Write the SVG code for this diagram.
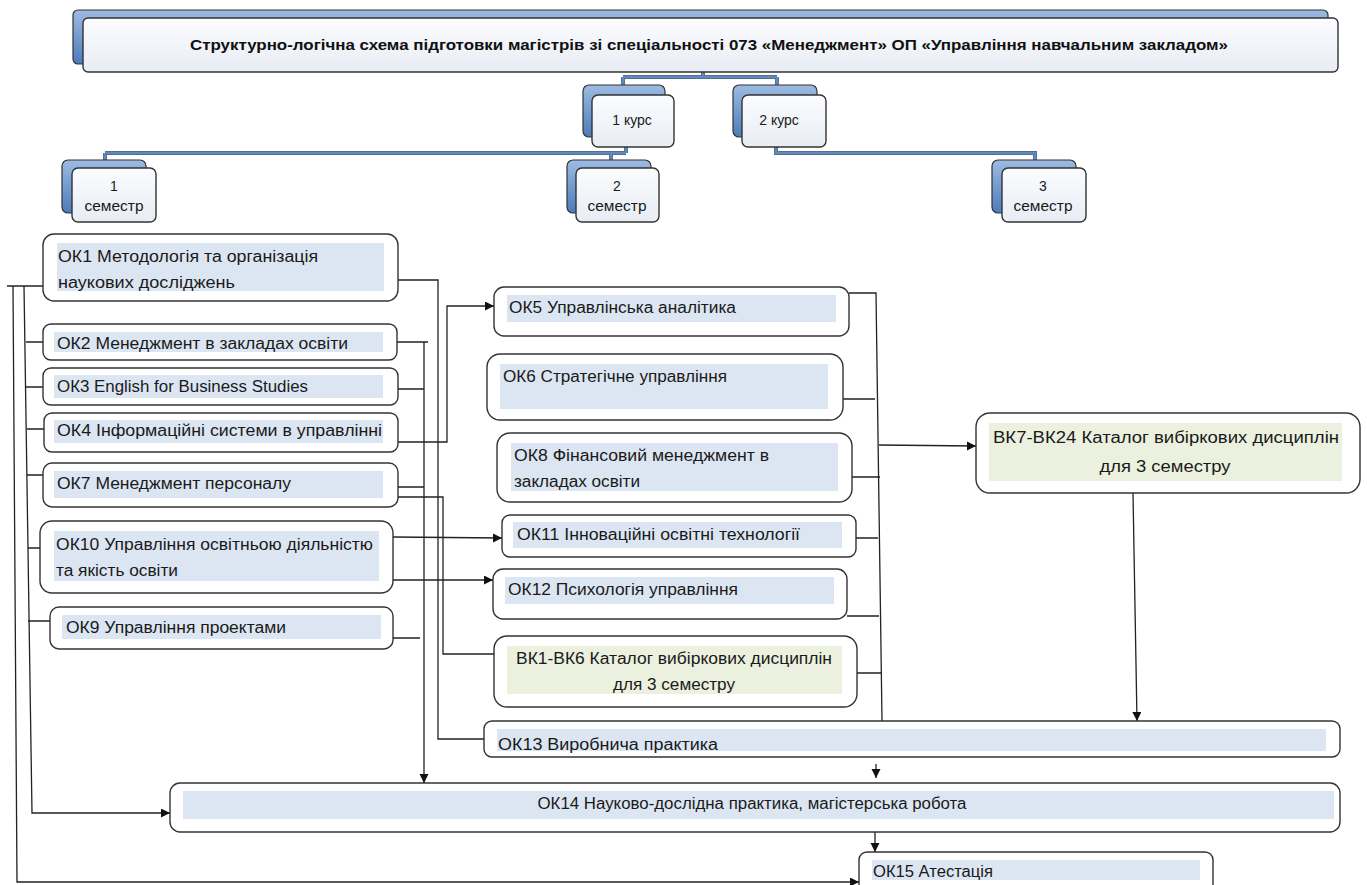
<svg xmlns="http://www.w3.org/2000/svg" width="1367" height="885" viewBox="0 0 1367 885">
<defs>
<linearGradient id="blue" x1="0" y1="0" x2="0" y2="1"><stop offset="0" stop-color="#9dbbe2"/><stop offset="1" stop-color="#4a7cbc"/></linearGradient>
<linearGradient id="pale" x1="0" y1="0" x2="0" y2="1"><stop offset="0" stop-color="#fbfcfe"/><stop offset="1" stop-color="#e8edf4"/></linearGradient>
<marker id="ar" markerUnits="userSpaceOnUse" markerWidth="10" markerHeight="10" refX="9" refY="4.5" orient="auto"><path d="M0,0 L9,4.5 L0,9 z" fill="#111"/></marker>
<style>
.box{fill:#fff;stroke:#333;stroke-width:1.4}
.hl{fill:#dce6f2}
.hg{fill:#ebf1de}
.t{font-family:"Liberation Sans",Arial,sans-serif;font-size:16px;fill:#1a1a1a}
.s{font-family:"Liberation Sans",Arial,sans-serif;font-size:14px;fill:#1a1a1a}
.h{font-family:"Liberation Sans",Arial,sans-serif;font-size:14.5px;font-weight:bold;fill:#111}
.c{fill:none;stroke:#222;stroke-width:1.3}
.back{fill:url(#blue);stroke:#333;stroke-width:1.2}
.front{fill:url(#pale);stroke:#333;stroke-width:1.4}
.blo{fill:none;stroke:#5b6e88;stroke-width:4}
.bli{fill:none;stroke:#5b8ac6;stroke-width:2.2}
</style>
</defs>
<rect width="1367" height="885" fill="#fff"/>

<g id="tree-connectors">
<path class="blo" d="M703,72 V77 M623,77 H777 M623,77 V86 M777,77 V86 M626,147 V153 M105,153 H626 M105,153 V161 M611,153 V161 M776,147 V153 H1035 V161"/>
<path class="bli" d="M703,72 V77 M623,77 H777 M623,77 V86 M777,77 V86 M626,147 V153 M105,153 H626 M105,153 V161 M611,153 V161 M776,147 V153 H1035 V161"/>
</g>

<g id="header">
<rect class="back" x="73" y="10" width="1255" height="54" rx="5"/>
<rect class="front" x="83" y="18" width="1255" height="54" rx="5"/>
<text class="h" x="709" y="50" text-anchor="middle" textLength="1038" lengthAdjust="spacingAndGlyphs">Структурно-логічна схема підготовки магістрів зі спеціальності 073 «Менеджмент» ОП «Управління навчальним закладом»</text>
</g>

<g id="kurs1">
<rect class="back" x="583" y="85" width="82" height="52" rx="6"/>
<rect class="front" x="592" y="95" width="82" height="52" rx="6"/>
<text class="s" x="632" y="125" text-anchor="middle">1 курс</text>
</g>
<g id="kurs2">
<rect class="back" x="733" y="85" width="84" height="52" rx="6"/>
<rect class="front" x="742" y="95" width="84" height="52" rx="6"/>
<text class="s" x="779" y="125" text-anchor="middle">2 курс</text>
</g>

<g id="sem1">
<rect class="back" x="62" y="160" width="84" height="53" rx="6"/>
<rect class="front" x="72" y="168" width="84" height="54" rx="6"/>
<text class="s" x="114" y="191" text-anchor="middle">1</text>
<text class="s" x="114" y="211" text-anchor="middle" textLength="59" lengthAdjust="spacingAndGlyphs">семестр</text>
</g>
<g id="sem2">
<rect class="back" x="567" y="160" width="84" height="53" rx="6"/>
<rect class="front" x="576" y="168" width="83" height="54" rx="6"/>
<text class="s" x="617" y="191" text-anchor="middle">2</text>
<text class="s" x="617" y="211" text-anchor="middle" textLength="59" lengthAdjust="spacingAndGlyphs">семестр</text>
</g>
<g id="sem3">
<rect class="back" x="992" y="160" width="84" height="53" rx="6"/>
<rect class="front" x="1002" y="168" width="84" height="54" rx="6"/>
<text class="s" x="1043" y="191" text-anchor="middle">3</text>
<text class="s" x="1043" y="211" text-anchor="middle" textLength="59" lengthAdjust="spacingAndGlyphs">семестр</text>
</g>

<g id="connectors">
<path class="c" d="M7,286 H43"/>
<path class="c" d="M13,286 L17,882 H859" marker-end="url(#ar)"/>
<path class="c" d="M24,286 L32,813 H170" marker-end="url(#ar)"/>
<path class="c" d="M26,342 H43 M26,387 H43 M27,429 H44 M27,475 H43 M28,548 H40 M28,621 H57"/>
<path class="c" d="M398,280 H438 V739 H484"/>
<path class="c" d="M397,342 H428 M398,389 H424 M398,487 H424 M393,638 H420"/>
<path class="c" d="M424,342 V783" marker-end="url(#ar)"/>
<path class="c" d="M398,442 H447 V306 H494" marker-end="url(#ar)"/>
<path class="c" d="M398,497 H443 V654 H494"/>
<path class="c" d="M393,537 L502,538" marker-end="url(#ar)"/>
<path class="c" d="M393,580 H493" marker-end="url(#ar)"/>
<path class="c" d="M849,293 H876 L882,721"/>
<path class="c" d="M843,399 H875 M852,477 H880 M856,538 H878 M847,616 H879 M857,673 H881"/>
<path class="c" d="M879,445 L976,446" marker-end="url(#ar)"/>
<path class="c" d="M1133,493 L1137,721" marker-end="url(#ar)"/>
<path class="c" d="M876,764 V778" marker-end="url(#ar)"/>
<path class="c" d="M875,819 V852" marker-end="url(#ar)"/>
</g>

<g id="ok1">
<rect class="box" x="43" y="234" width="355" height="67" rx="11"/>
<rect class="hl" x="57" y="243" width="327" height="48"/>
<text class="t" x="58" y="262" textLength="260" lengthAdjust="spacingAndGlyphs">ОК1 Методологія та організація</text>
<text class="t" x="58" y="288" textLength="177" lengthAdjust="spacingAndGlyphs">наукових досліджень</text>
</g>
<g id="ok2">
<rect class="box" x="43" y="324" width="354" height="36" rx="8"/>
<rect class="hl" x="54" y="332" width="329" height="20"/>
<text class="t" x="57" y="349" textLength="291" lengthAdjust="spacingAndGlyphs">ОК2 Менеджмент в закладах освіти</text>
</g>
<g id="ok3">
<rect class="box" x="43" y="368" width="355" height="37" rx="8"/>
<rect class="hl" x="54" y="375" width="329" height="23"/>
<text class="t" x="57" y="392" textLength="251" lengthAdjust="spacingAndGlyphs">ОК3 English for Business Studies</text>
</g>
<g id="ok4">
<rect class="box" x="44" y="413" width="354" height="39" rx="8"/>
<rect class="hl" x="54" y="420" width="329" height="23"/>
<text class="t" x="57" y="436" textLength="325" lengthAdjust="spacingAndGlyphs">ОК4 Інформаційні системи в управлінні</text>
</g>
<g id="ok7">
<rect class="box" x="43" y="463" width="355" height="44" rx="9"/>
<rect class="hl" x="54" y="471" width="329" height="27"/>
<text class="t" x="57" y="489" textLength="234" lengthAdjust="spacingAndGlyphs">ОК7 Менеджмент персоналу</text>
</g>
<g id="ok10">
<rect class="box" x="40" y="521" width="353" height="72" rx="12"/>
<rect class="hl" x="54" y="531" width="325" height="50"/>
<text class="t" x="56" y="550" textLength="317" lengthAdjust="spacingAndGlyphs">ОК10 Управління освітньою діяльністю</text>
<text class="t" x="56" y="576" textLength="122" lengthAdjust="spacingAndGlyphs">та якість освіти</text>
</g>
<g id="ok9">
<rect class="box" x="50" y="607" width="343" height="42" rx="9"/>
<rect class="hl" x="62" y="615" width="319" height="24"/>
<text class="t" x="66" y="633" textLength="220" lengthAdjust="spacingAndGlyphs">ОК9 Управління проектами</text>
</g>

<g id="ok5">
<rect class="box" x="494" y="287" width="355" height="49" rx="10"/>
<rect class="hl" x="507" y="295" width="329" height="27"/>
<text class="t" x="509" y="313" textLength="227" lengthAdjust="spacingAndGlyphs">ОК5 Управлінська аналітика</text>
</g>
<g id="ok6">
<rect class="box" x="487" y="354" width="356" height="66" rx="13"/>
<rect class="hl" x="500" y="364" width="328" height="45"/>
<text class="t" x="503" y="382" textLength="224" lengthAdjust="spacingAndGlyphs">ОК6 Стратегічне управління</text>
</g>
<g id="ok8">
<rect class="box" x="497" y="433" width="355" height="69" rx="13"/>
<rect class="hl" x="511" y="443" width="327" height="48"/>
<text class="t" x="514" y="461" textLength="255" lengthAdjust="spacingAndGlyphs">ОК8 Фінансовий менеджмент в</text>
<text class="t" x="514" y="487" textLength="126" lengthAdjust="spacingAndGlyphs">закладах освіти</text>
</g>
<g id="ok11">
<rect class="box" x="502" y="515" width="354" height="42" rx="8"/>
<rect class="hl" x="513" y="522" width="329" height="26"/>
<text class="t" x="517" y="540" textLength="283" lengthAdjust="spacingAndGlyphs">ОК11 Інноваційні освітні технології</text>
</g>
<g id="ok12">
<rect class="box" x="493" y="569" width="354" height="50" rx="10"/>
<rect class="hl" x="505" y="577" width="329" height="27"/>
<text class="t" x="508" y="595" textLength="230" lengthAdjust="spacingAndGlyphs">ОК12 Психологія управління</text>
</g>
<g id="vk1-6">
<rect class="box" x="494" y="636" width="363" height="71" rx="13"/>
<rect class="hg" x="507" y="646" width="335" height="48"/>
<text class="t" x="674" y="664" text-anchor="middle" textLength="316" lengthAdjust="spacingAndGlyphs">ВК1-ВК6 Каталог вибіркових дисциплін</text>
<text class="t" x="674" y="690" text-anchor="middle" textLength="122" lengthAdjust="spacingAndGlyphs">для 3 семестру</text>
</g>
<g id="vk7-24">
<rect class="box" x="976" y="413" width="384" height="80" rx="14"/>
<rect class="hg" x="989" y="423" width="353" height="58"/>
<text class="t" x="1166" y="443" text-anchor="middle" textLength="346" lengthAdjust="spacingAndGlyphs">ВК7-ВК24 Каталог вибіркових дисциплін</text>
<text class="t" x="1165" y="472" text-anchor="middle" textLength="131" lengthAdjust="spacingAndGlyphs">для 3 семестру</text>
</g>
<g id="ok13">
<rect class="box" x="484" y="721" width="856" height="36" rx="8"/>
<rect class="hl" x="497" y="729" width="829" height="22"/>
<text class="t" x="498" y="750" textLength="220" lengthAdjust="spacingAndGlyphs">ОК13 Виробнича практика</text>
</g>
<g id="ok14">
<rect class="box" x="170" y="783" width="1170" height="49" rx="10"/>
<rect class="hl" x="183" y="791" width="1151" height="28"/>
<text class="t" x="752" y="809" text-anchor="middle" textLength="429" lengthAdjust="spacingAndGlyphs">ОК14 Науково-дослідна практика, магістерська робота</text>
</g>
<g id="ok15">
<rect class="box" x="859" y="852" width="354" height="42" rx="8"/>
<rect class="hl" x="872" y="860" width="328" height="20"/>
<text class="t" x="873" y="877" textLength="120" lengthAdjust="spacingAndGlyphs">ОК15 Атестація</text>
</g>
</svg>
